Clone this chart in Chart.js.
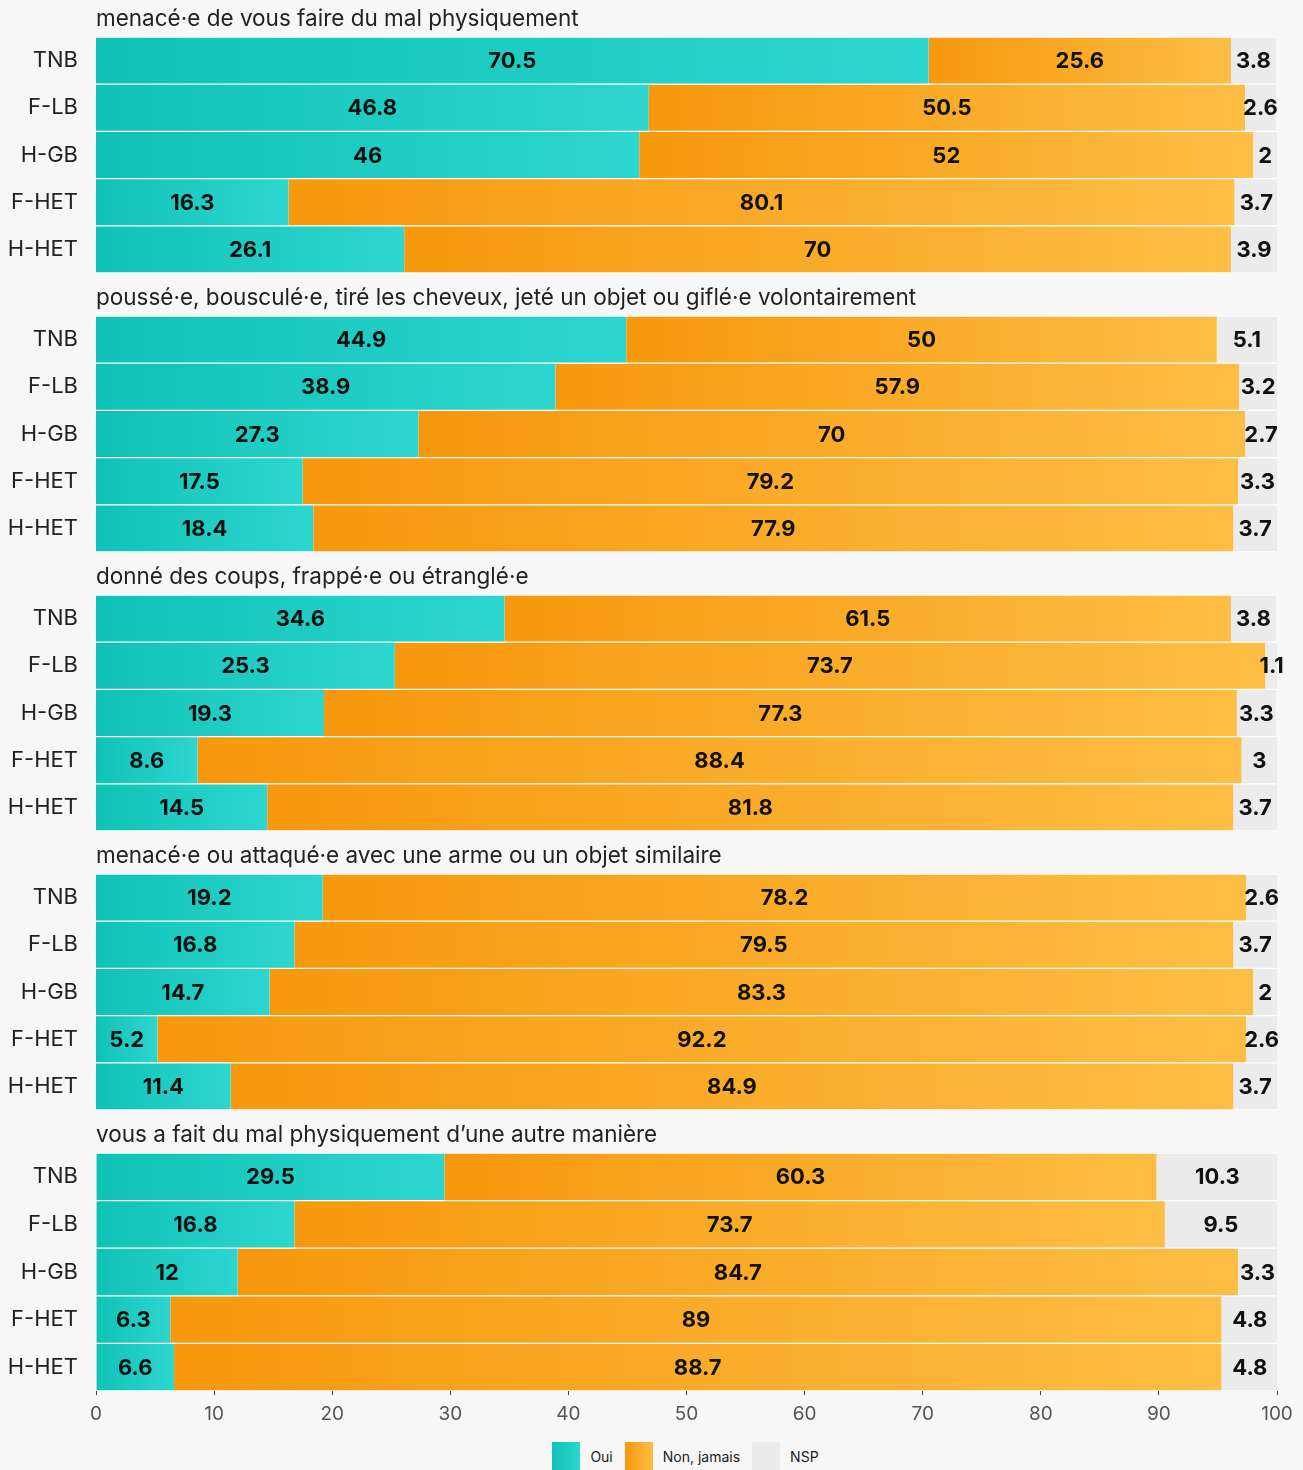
<!DOCTYPE html>
<html lang="fr">
<head>
<meta charset="UTF-8">
<title>Violences physiques</title>
<script src="https://cdn.jsdelivr.net/npm/chart.js"></script>
<style>
  body {
    margin: 0;
    background: #f7f7f7;
    font-family: 'Inter', sans-serif;
  }
  .wrap {
    width: 1303px;
  }
  .block {
    position: relative;
    width: 1303px;
    height: 279px;
  }
  .block.last {
    height: 324px;
  }
  .legend {
    display: flex;
    justify-content: center;
    align-items: center;
    padding-left: 80px;
    height: 28px;
    margin-top: 2px;
    font-size: 14px;
    color: #222;
  }
  .legend span.box {
    display: inline-block;
    width: 28px;
    height: 28px;
    margin-right: 10px;
  }
  .legend span.txt {
    margin-right: 12px;
  }
</style>
</head>
<body>
<div class="wrap">
  <div class="block"><canvas id="c0"></canvas></div>
  <div class="block"><canvas id="c1"></canvas></div>
  <div class="block"><canvas id="c2"></canvas></div>
  <div class="block"><canvas id="c3"></canvas></div>
  <div class="block last"><canvas id="c4"></canvas></div>
  <div class="legend">
    <span class="box" style="background: linear-gradient(90deg, #10c2b6, #2dd6cf)"></span><span class="txt">Oui</span>
    <span class="box" style="background: linear-gradient(90deg, #f7980d, #fdbe45)"></span><span class="txt">Non, jamais</span>
    <span class="box" style="background: #ebebeb"></span><span class="txt">NSP</span>
  </div>
</div>

<script>
const categories = ['TNB', 'F-LB', 'H-GB', 'F-HET', 'H-HET'];

const groupTitles = [
  'menacé·e de vous faire du mal physiquement',
  'poussé·e, bousculé·e, tiré les cheveux, jeté un objet ou giflé·e volontairement',
  'donné des coups, frappé·e ou étranglé·e',
  'menacé·e ou attaqué·e avec une arme ou un objet similaire',
  'vous a fait du mal physiquement d’une autre manière'
];

// one inner list per group, rows in the order of categories
const oui = [
  [70.5, 46.8, 46, 16.3, 26.1],
  [44.9, 38.9, 27.3, 17.5, 18.4],
  [34.6, 25.3, 19.3, 8.6, 14.5],
  [19.2, 16.8, 14.7, 5.2, 11.4],
  [29.5, 16.8, 12, 6.3, 6.6]
];
const nonJamais = [
  [25.6, 50.5, 52, 80.1, 70],
  [50, 57.9, 70, 79.2, 77.9],
  [61.5, 73.7, 77.3, 88.4, 81.8],
  [78.2, 79.5, 83.3, 92.2, 84.9],
  [60.3, 73.7, 84.7, 89, 88.7]
];
const nsp = [
  [3.8, 2.6, 2, 3.7, 3.9],
  [5.1, 3.2, 2.7, 3.3, 3.7],
  [3.8, 1.1, 3.3, 3, 3.7],
  [2.6, 3.7, 2, 2.6, 3.7],
  [10.3, 9.5, 3.3, 4.8, 4.8]
];

const xTicks = [0, 10, 20, 30, 40, 50, 60, 70, 80, 90, 100];

// gradient running along each segment, from its start to its end
function segmentGradient(from, to) {
  return function(context) {
    const chart = context.chart;
    if (!chart.chartArea || context.dataIndex === undefined) return from;
    const i = context.dataIndex;
    const ds = chart.data.datasets;
    let start = 0;
    for (let d = 0; d < context.datasetIndex; d++) start += ds[d].data[i];
    const end = start + ds[context.datasetIndex].data[i];
    const xs = chart.scales.x.getPixelForValue(start);
    const xe = chart.scales.x.getPixelForValue(end);
    const g = chart.ctx.createLinearGradient(xs, 0, Math.max(xe, xs + 1), 0);
    g.addColorStop(0, from);
    g.addColorStop(1, to);
    return g;
  };
}

const valueLabels = {
  id: 'valueLabels',
  afterDatasetsDraw(chart) {
    const ctx = chart.ctx;
    ctx.save();
    ctx.font = 'bold 22px Inter, sans-serif';
    ctx.fillStyle = '#111';
    ctx.textAlign = 'center';
    ctx.textBaseline = 'middle';
    chart.data.datasets.forEach((ds, d) => {
      chart.getDatasetMeta(d).data.forEach((bar, i) => {
        const cx = (bar.x + bar.base) / 2;
        ctx.fillText(String(ds.data[i]), cx, bar.y + 1);
      });
    });
    ctx.restore();
  }
};

const groupTitle = {
  id: 'groupTitle',
  afterDraw(chart, args, opts) {
    const ctx = chart.ctx;
    ctx.save();
    ctx.font = '22.5px Inter, sans-serif';
    ctx.fillStyle = '#222';
    ctx.textAlign = 'left';
    ctx.textBaseline = 'middle';
    ctx.fillText(opts.text, chart.chartArea.left, chart.chartArea.top - 18);
    ctx.restore();
  }
};

function makeChart(g) {
  const last = g === 4;
  const ctx = document.getElementById('c' + g);
  return new Chart(ctx, {
    type: 'bar',
    data: {
      labels: categories,
      datasets: [
        {
          label: 'Oui',
          data: oui[g],
          backgroundColor: segmentGradient('#10c2b6', '#2dd6cf')
        },
        {
          label: 'Non, jamais',
          data: nonJamais[g],
          backgroundColor: segmentGradient('#f7980d', '#fdbe45')
        },
        {
          label: 'NSP',
          data: nsp[g],
          backgroundColor: '#ebebeb'
        }
      ]
    },
    options: {
      indexAxis: 'y',
      responsive: true,
      maintainAspectRatio: false,
      animation: false,
      datasets: {
        bar: {
          barPercentage: 1,
          categoryPercentage: 1,
          borderWidth: { top: 1, bottom: 1, left: 0, right: 0 },
          borderColor: '#ffffff',
          borderSkipped: false
        }
      },
      layout: {
        padding: { top: 37, bottom: last ? 9 : 6, left: 0, right: 26 }
      },
      scales: {
        x: {
          stacked: true,
          min: 0,
          max: 100,
          display: last,
          afterBuildTicks: function(scale) {
            scale.ticks = xTicks.map(v => ({ value: v }));
          },
          afterFit: function(scale) {
            scale.height = last ? 40 : 0;
          },
          border: { display: false },
          grid: {
            drawOnChartArea: false,
            drawTicks: true,
            tickLength: 4,
            color: '#444'
          },
          ticks: {
            padding: 8,
            color: '#555',
            font: { family: 'Inter', size: 19 }
          }
        },
        y: {
          stacked: true,
          afterFit: function(scale) {
            scale.width = 96;
            scale.paddingTop = 0;
            scale.paddingBottom = 0;
          },
          border: { display: false },
          grid: { display: false, drawTicks: false },
          ticks: {
            padding: 18,
            color: '#222',
            font: { family: 'Inter', size: 22 }
          }
        }
      },
      plugins: {
        legend: { display: false },
        tooltip: { enabled: false },
        groupTitle: { text: groupTitles[g] }
      }
    },
    plugins: [valueLabels, groupTitle]
  });
}

for (let g = 0; g < 5; g++) makeChart(g);
</script>
</body>
</html>
